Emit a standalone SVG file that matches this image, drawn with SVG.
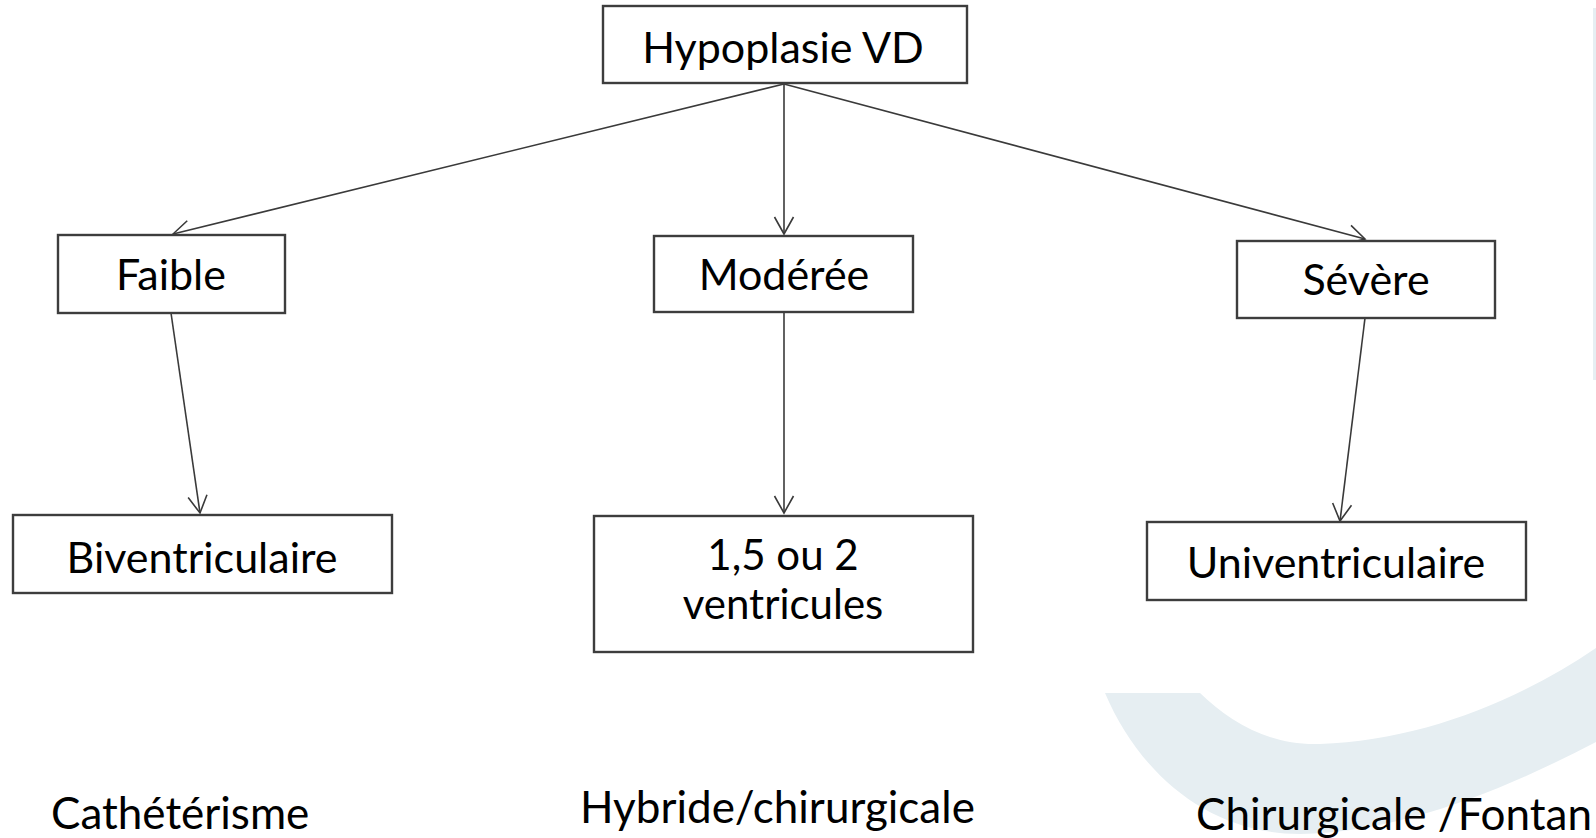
<svg xmlns="http://www.w3.org/2000/svg" width="1596" height="838" viewBox="0 0 1596 838">
  <style>
    .box { fill: #ffffff; stroke: #3d3d3d; stroke-width: 2.4; }
    .lbl { font-family: Lato, "Liberation Sans", sans-serif; font-size: 43px; fill: #000000; text-anchor: middle; }
    .lbl2 { font-family: Lato, "Liberation Sans", sans-serif; font-size: 42px; fill: #000000; text-anchor: middle; }
    .foot { font-family: Lato, "Liberation Sans", sans-serif; font-size: 44px; fill: #000000; }
    .conn { stroke: #3a3a3a; stroke-width: 1.6; fill: none; marker-end: url(#arr); }
    .deco { fill: #e6eef2; }
  </style>
  <defs>
    <marker id="arr" markerUnits="userSpaceOnUse" viewBox="-20 -12 22 24" refX="0" refY="0" markerWidth="22" markerHeight="24" orient="auto">
      <path d="M-17,-9.5 L0,0 L-17,9.5" fill="none" stroke="#3a3a3a" stroke-width="1.6"/>
    </marker>
  </defs>
  <rect width="1596" height="838" fill="#ffffff"/>
  <g id="background">
    <path class="deco" d="M1105,693 L1200,693 C1230,722 1270,746 1320,744 C1420,741 1520,700 1596,648 L1596,742 C1500,792 1400,832 1300,834 C1210,834 1140,775 1105,693 Z"/>
    <rect class="deco" x="1593" y="8" width="3" height="372"/>
  </g>
  <g id="connectors">
    <line class="conn" x1="784" y1="84" x2="173" y2="234"/>
    <line class="conn" x1="784" y1="84" x2="784" y2="234"/>
    <line class="conn" x1="784" y1="84" x2="1365" y2="239"/>
    <line class="conn" x1="171" y1="313" x2="200" y2="513"/>
    <line class="conn" x1="784" y1="312" x2="784" y2="513"/>
    <line class="conn" x1="1365" y1="318" x2="1340" y2="521"/>
  </g>
  <g id="n-hypoplasie">
    <rect class="box" x="603" y="6" width="364" height="77"/>
    <text class="lbl" x="783" y="63">Hypoplasie VD</text>
  </g>
  <g id="n-faible">
    <rect class="box" x="58" y="235" width="227" height="78"/>
    <text class="lbl" x="171" y="290">Faible</text>
  </g>
  <g id="n-moderee">
    <rect class="box" x="654" y="236" width="259" height="76"/>
    <text class="lbl" x="784" y="290">Modérée</text>
  </g>
  <g id="n-severe">
    <rect class="box" x="1237" y="241" width="258" height="77"/>
    <text class="lbl" x="1366" y="295">Sévère</text>
  </g>
  <g id="n-biventriculaire">
    <rect class="box" x="13" y="515" width="379" height="78"/>
    <text class="lbl" x="202" y="573">Biventriculaire</text>
  </g>
  <g id="n-15ou2">
    <rect class="box" x="594" y="516" width="379" height="136"/>
    <text class="lbl2" x="783" y="570">1,5 ou 2</text>
    <text class="lbl2" x="783" y="619">ventricules</text>
  </g>
  <g id="n-univentriculaire">
    <rect class="box" x="1147" y="522" width="379" height="78"/>
    <text class="lbl" x="1336" y="578">Univentriculaire</text>
  </g>
  <g id="footer">
    <text class="foot" x="51" y="829">Cathétérisme</text>
    <text class="foot" x="580" y="823">Hybride/chirurgicale</text>
    <text class="foot" x="1196" y="830">Chirurgicale /Fontan</text>
  </g>
</svg>
